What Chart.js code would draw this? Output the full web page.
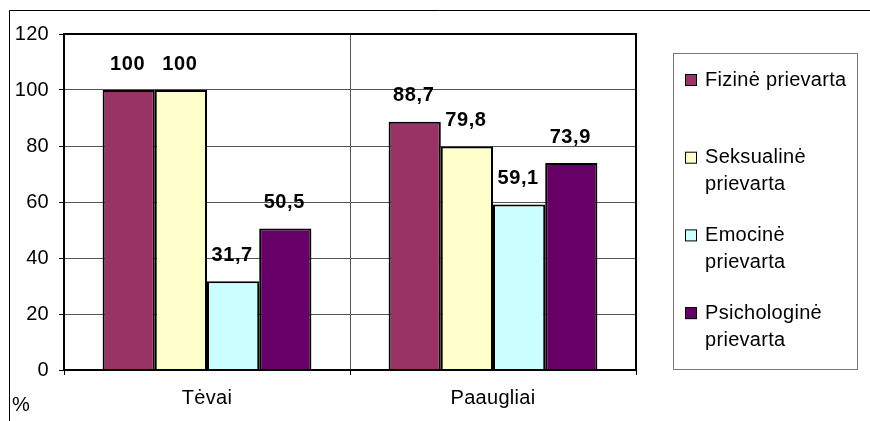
<!DOCTYPE html>
<html>
<head>
<meta charset="utf-8">
<script src="https://cdn.jsdelivr.net/npm/chart.js@4/dist/chart.umd.min.js"></script>
<style>
  html, body { margin: 0; padding: 0; background: #fff; }
  #wrap { width: 870px; height: 421px; position: relative; }
</style>
</head>
<body>
<div id="wrap"><canvas id="chart"></canvas></div>
<script>
const categories = ["Tėvai", "Paaugliai"];
const seriesNames = ["Fizinė prievarta", "Seksualinė prievarta", "Emocinė prievarta", "Psichologinė prievarta"];
const fizine = [100, 88.7];
const seksualine = [100, 79.8];
const emocine = [31.7, 59.1];
const psichologine = [50.5, 73.9];
const yTicks = [0, 20, 40, 60, 80, 100, 120];
const yTitle = "%";

const colors = ["#993366", "#FFFFCC", "#CCFFFF", "#660066"];
const FONT = "'Liberation Sans', Arial, sans-serif";

const ctx = document.getElementById("chart");

// labels above bars, legend box, frame lines
const decor = {
  id: "decor",
  beforeDraw(chart) {
    const c = chart.ctx;
    c.fillStyle = "#fff";
    c.fillRect(0, 0, chart.width, chart.height);
    c.letterSpacing = "0.3px";
  },
  afterDatasetsDraw(chart) {
    const c = chart.ctx;
    c.save();
    c.font = "bold 20px " + FONT;
    c.letterSpacing = "0.6px";
    c.fillStyle = "#000";
    c.textAlign = "center";
    c.textBaseline = "middle";
    chart.data.datasets.forEach((ds, i) => {
      chart.getDatasetMeta(i).data.forEach((bar, j) => {
        const txt = String(ds.data[j]).replace(".", ",");
        c.fillText(txt, bar.x - 1, bar.y - 26);
      });
    });
    c.restore();
  },
  afterDraw(chart) {
    const c = chart.ctx;
    const a = chart.chartArea;
    c.save();

    // plot frame
    c.strokeStyle = "#000";
    c.lineWidth = 2;
    c.strokeRect(a.left, a.top, a.right - a.left, a.bottom - a.top);

    // outer frame (cropped)
    c.lineWidth = 1;
    c.beginPath();
    c.moveTo(9.5, chart.height);
    c.lineTo(9.5, 10.5);
    c.lineTo(chart.width, 10.5);
    c.stroke();

    // y title
    c.font = "20px " + FONT;
    c.letterSpacing = "0.3px";
    c.fillStyle = "#000";
    c.textAlign = "left";
    c.textBaseline = "middle";
    c.fillText(yTitle, 12, 405);

    // legend
    c.strokeStyle = "#777";
    c.lineWidth = 1;
    c.strokeRect(673.5, 53.5, 184, 316);
    const maxW = 160;
    chart.data.datasets.forEach((ds, i) => {
      const y = 80 + i * 77.7;
      c.fillStyle = ds.backgroundColor;
      c.fillRect(685, y - 6, 12, 12);
      c.strokeStyle = "#000";
      c.strokeRect(685.5, y - 5.5, 11, 11);
      c.fillStyle = "#000";
      let lines = [ds.label];
      if (c.measureText(ds.label).width > maxW) {
        const k = ds.label.indexOf(" ");
        lines = [ds.label.slice(0, k), ds.label.slice(k + 1)];
      }
      lines.forEach((ln, n) => c.fillText(ln, 705, y + n * 27));
    });
    c.restore();
  },
};

const datasets = [fizine, seksualine, emocine, psichologine].map((vals, i) => ({
  label: seriesNames[i],
  data: vals,
  backgroundColor: colors[i],
  borderColor: "#000",
  borderWidth: 2,
  categoryPercentage: 0.73,
  barPercentage: 1,
}));

const chart = new Chart(ctx, {
  type: "bar",
  data: { labels: categories, datasets },
  options: {
    responsive: true,
    maintainAspectRatio: false,
    animation: false,
    layout: { padding: { left: 0, top: 34, right: 234, bottom: 0 } },
    plugins: {
      legend: { display: false },
      tooltip: { enabled: false },
    },
    scales: {
      x: {
        afterFit: (s) => { s.height = 51; },
        grid: { color: "#555", lineWidth: 1, offset: true, tickLength: 5, tickColor: "#000" },
        border: { color: "#000", width: 2 },
        ticks: { color: "#000", font: { family: FONT, size: 20 }, padding: 11 },
      },
      y: {
        min: yTicks[0],
        max: yTicks[yTicks.length - 1],
        afterFit: (s) => { s.width = 64; },
        grid: { color: "#555", lineWidth: 1, tickLength: 5, tickColor: "#000" },
        border: { color: "#000", width: 2 },
        ticks: {
          stepSize: yTicks[1] - yTicks[0],
          color: "#000",
          font: { family: FONT, size: 20 },
          padding: 10,
        },
      },
    },
  },
  plugins: [decor],
});
</script>
</body>
</html>
